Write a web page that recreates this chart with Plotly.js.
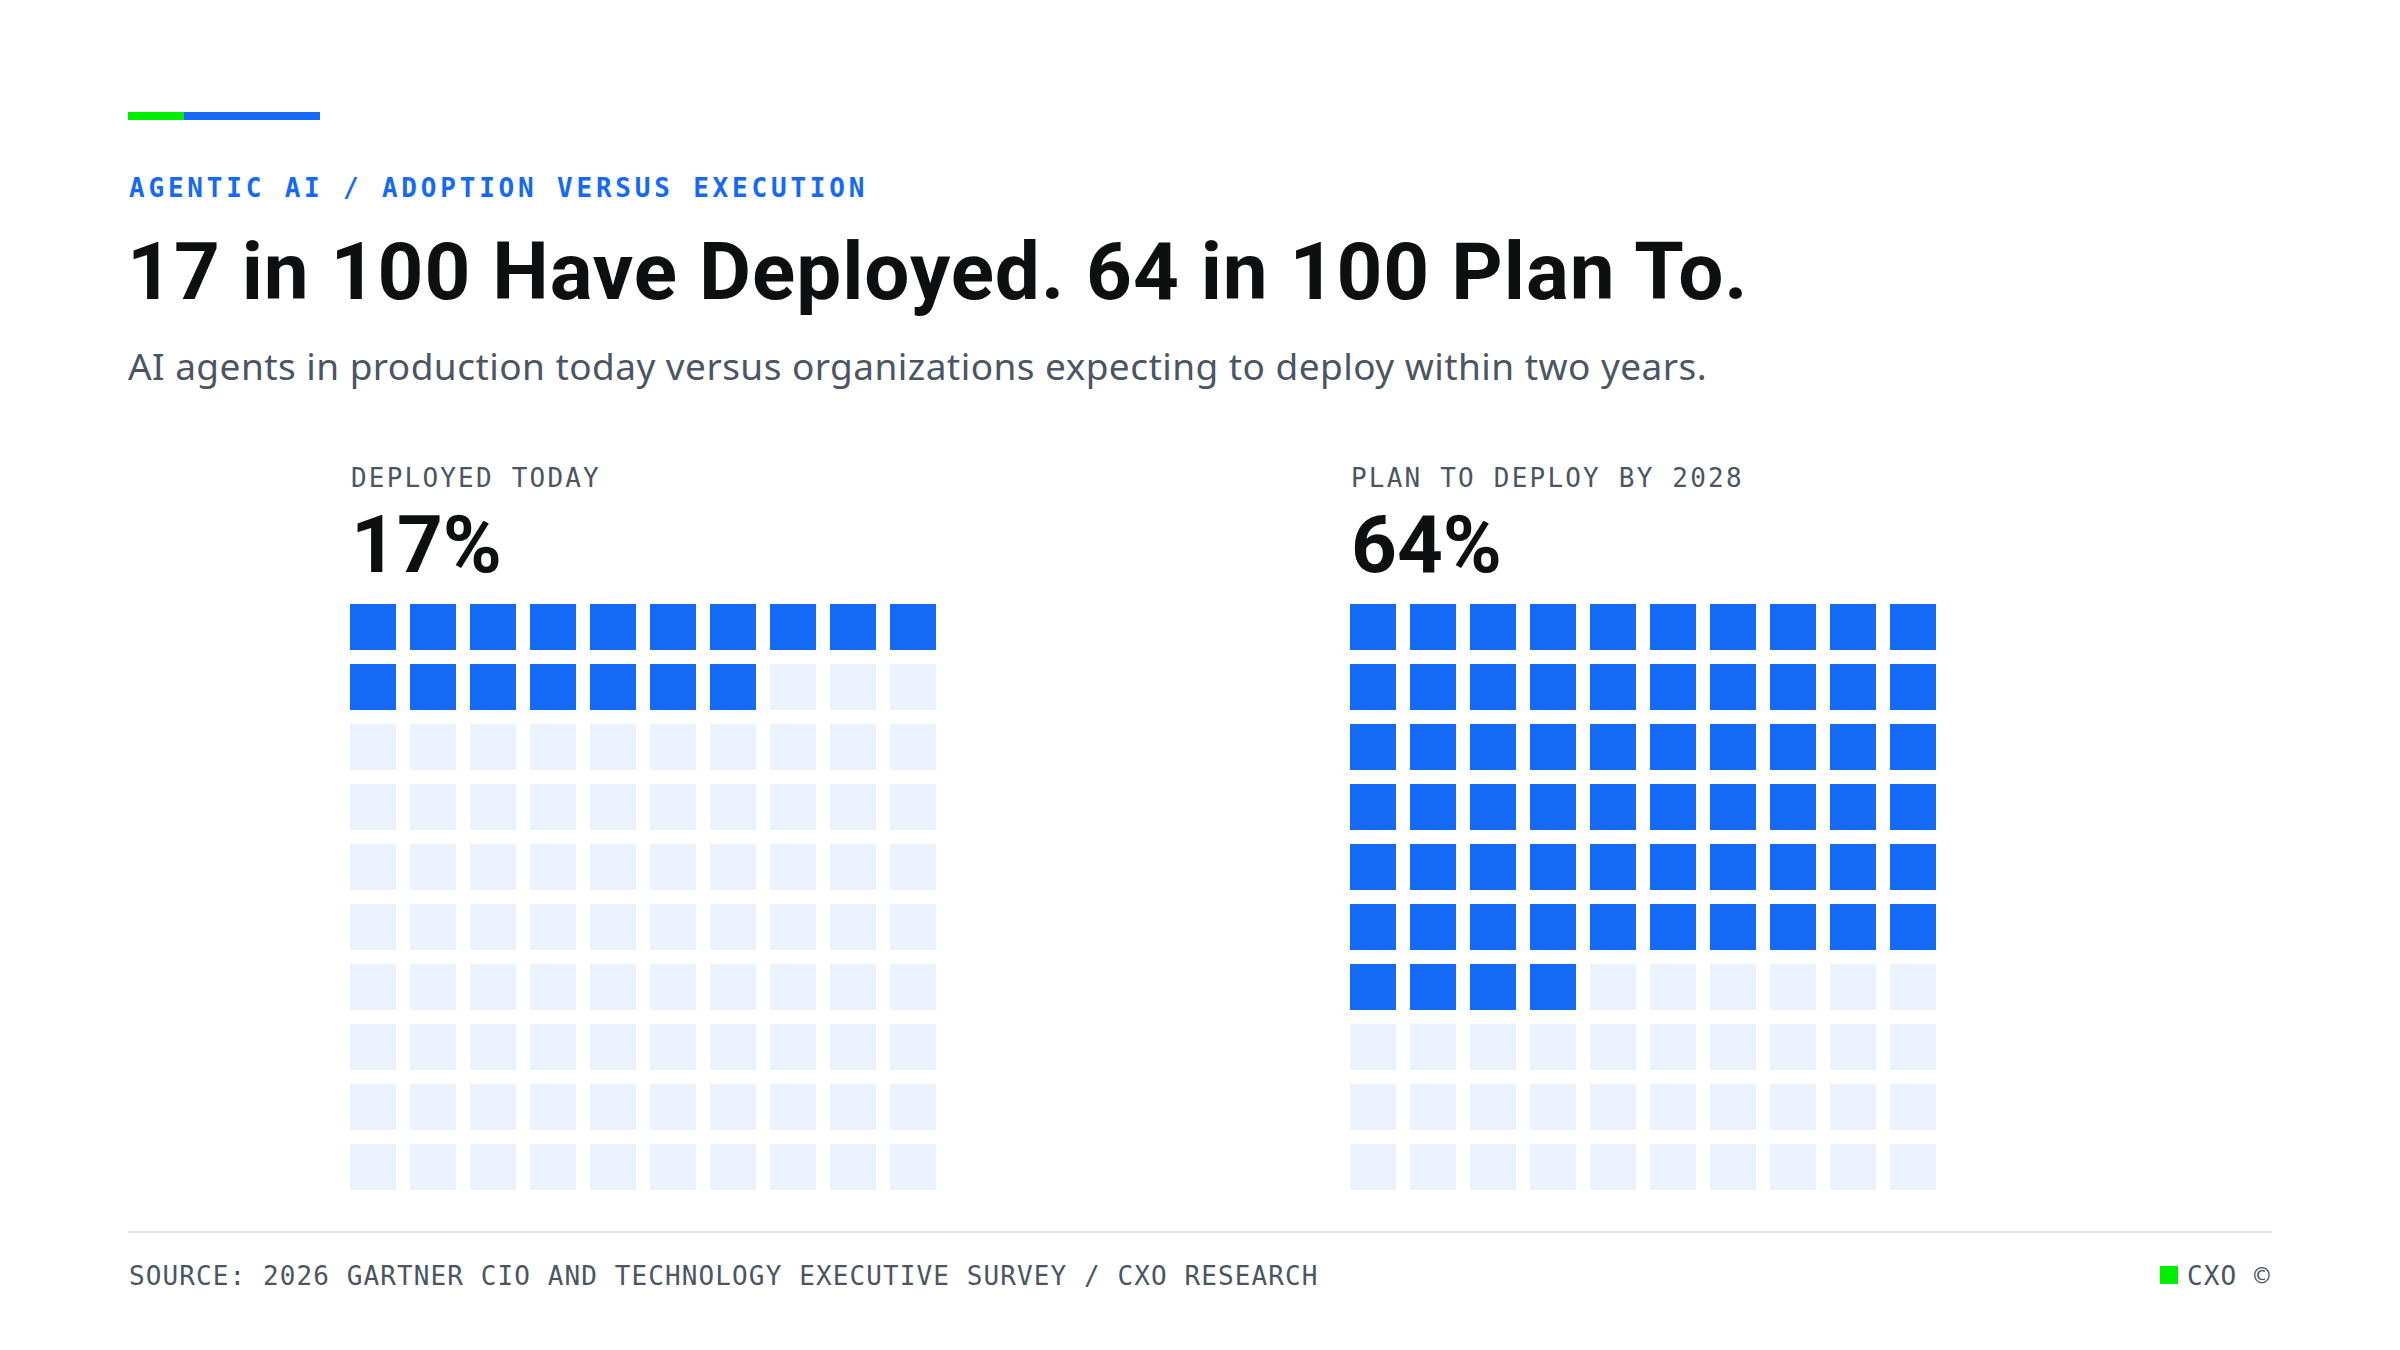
<!DOCTYPE html>
<html><head><meta charset="utf-8">
<script src="https://cdn.plot.ly/plotly-3.0.1.min.js"></script>
<style>html,body{margin:0;padding:0;background:#fff}#chart{width:2400px;height:1350px}</style>
</head><body><div id="chart"></div>
<script>
// ---- data ----
const panelLabels = ["DEPLOYED TODAY", "PLAN TO DEPLOY BY 2028"];
const panelValues = [17, 64];          // organizations out of 100
const gridColumns = 10;
const gridRows = 10;
const kicker = "AGENTIC AI / ADOPTION VERSUS EXECUTION";
const headline = "17 in 100 Have Deployed. 64 in 100 Plan To.";
const subhead = "AI agents in production today versus organizations expecting to deploy within two years.";
const sourceNote = "SOURCE: 2026 GARTNER CIO AND TECHNOLOGY EXECUTIVE SURVEY / CXO RESEARCH";
const brand = "CXO ©";

// ---- style / layout constants ----
const W = 2400, H = 1350;
const BLUE = "#1469f5", LIGHT = "#ecf2fd", GREEN = "#00f000", INK = "#0e0f11", GREY = "#4b5563";
const SANS = "Roboto, 'Noto Sans', sans-serif";
const SANS2 = "'Noto Sans', Roboto, sans-serif";
const MONO = "'DejaVu Sans Mono', 'Liberation Mono', monospace";
const px = v => v / W;
const py = v => 1 - v / H;
const topFromBaseline = (b, fs, asc) => py(b - (asc || 0.928) * fs - 1);
const spaced = (t, ls) => '<span style="letter-spacing:' + ls + 'px">' + t + '</span>';

const panelLeft = [350, 1350];
const gridTop = 604, pitch = 60, cell = 46;

const traces = [];
const layout = {
  width: W, height: H,
  margin: {l: 0, r: 0, t: 0, b: 0},
  paper_bgcolor: "#ffffff", plot_bgcolor: "#ffffff",
  showlegend: false, hovermode: false,
  title: {
    text: spaced(headline, 1), x: px(127), xref: "paper", xanchor: "left",
    y: py(299), yref: "container", yanchor: "bottom",
    font: {family: SANS, size: 80, color: INK, weight: 700}
  },
  annotations: [], shapes: []
};

panelValues.forEach((val, k) => {
  const xs = [], ys = [], cs = [];
  for (let i = 0; i < gridColumns * gridRows; i++) {
    xs.push(i % gridColumns);
    ys.push(Math.floor(i / gridColumns));
    cs.push(i < val ? BLUE : LIGHT);
  }
  const ax = k === 0 ? "" : String(k + 1);
  traces.push({
    type: "scatter", mode: "markers", x: xs, y: ys,
    xaxis: "x" + ax, yaxis: "y" + ax,
    marker: {symbol: "square", size: cell, color: cs, line: {width: 0}},
    hoverinfo: "skip"
  });
  const left = panelLeft[k] + cell / 2 - pitch / 2;
  const top = gridTop + cell / 2 - pitch / 2;
  const axBase = {showgrid: false, zeroline: false, showticklabels: false, showline: false, ticks: "", fixedrange: true};
  layout["xaxis" + ax] = Object.assign({}, axBase, {
    range: [-0.5, gridColumns - 0.5],
    domain: [px(left), px(left + pitch * gridColumns)],
    anchor: "y" + ax
  });
  layout["yaxis" + ax] = Object.assign({}, axBase, {
    range: [gridRows - 0.5, -0.5],
    domain: [py(top + pitch * gridRows), py(top)],
    anchor: "x" + ax
  });
  layout.annotations.push({
    text: spaced(panelLabels[k], 2.2), xref: "paper", yref: "paper",
    x: px(panelLeft[k] - 1), y: topFromBaseline(486, 26), xanchor: "left", yanchor: "top",
    showarrow: false, font: {family: MONO, size: 26, color: GREY}
  });
  layout.annotations.push({
    text: val + "%", xref: "paper", yref: "paper",
    x: px(panelLeft[k] - 1), y: topFromBaseline(571, 80), xanchor: "left", yanchor: "top",
    showarrow: false, font: {family: SANS, size: 80, color: INK, weight: 700}
  });
});

layout.annotations.push(
  {text: spaced(kicker, 3.8), xref: "paper", yref: "paper", x: px(127), y: topFromBaseline(196, 26),
   xanchor: "left", yanchor: "top", showarrow: false, font: {family: MONO, size: 26, color: BLUE, weight: 700}},
  {text: spaced(subhead, 0.45), xref: "paper", yref: "paper", x: px(126), y: topFromBaseline(379, 37, 1.069),
   xanchor: "left", yanchor: "top", showarrow: false, font: {family: SANS2, size: 37, color: GREY}},
  {text: spaced(sourceNote, 1.1), xref: "paper", yref: "paper", x: px(127), y: topFromBaseline(1284, 26),
   xanchor: "left", yanchor: "top", showarrow: false, font: {family: MONO, size: 26, color: GREY}},
  {text: spaced(brand, 1.1), xref: "paper", yref: "paper", x: px(2273), y: topFromBaseline(1284, 26),
   xanchor: "right", yanchor: "top", showarrow: false, font: {family: MONO, size: 26, color: GREY}}
);

layout.shapes.push(
  {type: "rect", xref: "paper", yref: "paper", x0: px(128), x1: px(184), y0: py(120), y1: py(112), fillcolor: GREEN, line: {width: 0}},
  {type: "rect", xref: "paper", yref: "paper", x0: px(184), x1: px(320), y0: py(120), y1: py(112), fillcolor: BLUE, line: {width: 0}},
  {type: "line", xref: "paper", yref: "paper", x0: px(128), x1: px(2272), y0: py(1232), y1: py(1232), line: {color: "#e3e4e6", width: 2}},
  {type: "rect", xref: "paper", yref: "paper", x0: px(2160), x1: px(2178), y0: py(1284), y1: py(1266), fillcolor: GREEN, line: {width: 0}}
);

Plotly.newPlot("chart", traces, layout, {displayModeBar: false, staticPlot: true});
</script></body></html>
